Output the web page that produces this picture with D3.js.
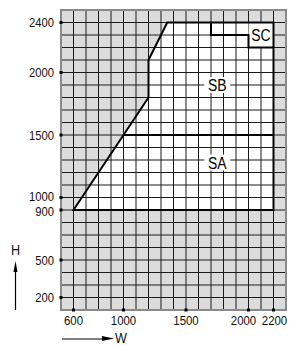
<!DOCTYPE html>
<html><head><meta charset="utf-8">
<script src="https://cdn.jsdelivr.net/npm/d3@7"></script>
<style>html,body{margin:0;padding:0;background:#fff;}svg{display:block;}</style>
</head><body>
<script>
const xDomain = [500, 2300];
const yDomain = [100, 2500];
const gridStep = 100;
const xTicks = [600, 1000, 1500, 2000, 2200];
const yTicks = [200, 500, 900, 1000, 1500, 2000, 2400];
const regionOutline = [[600,900],[1200,1800],[1200,2100],[1350,2400],[2200,2400],[2200,900]];
const dividerSASB = [[1000,1500],[2200,1500]];
const scBoundary = [[1700,2400],[1700,2300],[2000,2300],[2000,2200],[2200,2200]];
const scBox = [[2000,2200],[2200,2400]];
const zoneLabels = ["SA","SB","SC"];
const zoneX = [1750, 1750, 2100];
const zoneY = [1280, 1900, 2300];

const W = 291, H = 345;
const svg = d3.select("body").append("svg").attr("width", W).attr("height", H);
const x = d3.scaleLinear().domain(xDomain).range([61, 286]);
const y = d3.scaleLinear().domain(yDomain).range([310, 10]);
const font = "'Liberation Sans',Arial,sans-serif";

function ctext(tx, ty, str, size, anchor, sx, dy) {
  return svg.append("text")
    .attr("transform", `translate(${tx},${ty}) scale(${sx},1)`)
    .attr("dy", dy || 0)
    .attr("text-anchor", anchor).attr("font-family", font).attr("font-size", size)
    .attr("fill", "#111").text(str);
}

// grey background
svg.append("rect").attr("x", x(xDomain[0])).attr("y", y(yDomain[1]))
  .attr("width", x(xDomain[1]) - x(xDomain[0])).attr("height", y(yDomain[0]) - y(yDomain[1]))
  .attr("fill", "#dcdcdc");
// white region
const line = d3.line().x(d => x(d[0])).y(d => y(d[1]));
svg.append("path").attr("d", line(regionOutline) + "Z").attr("fill", "#fff");

// grid
const gx = d3.range(xDomain[0] + gridStep, xDomain[1], gridStep);
const gy = d3.range(yDomain[0] + gridStep, yDomain[1], gridStep);
svg.append("g").selectAll("line").data(gx).join("line")
  .attr("x1", d => x(d)).attr("x2", d => x(d)).attr("y1", y(yDomain[0])).attr("y2", y(yDomain[1]))
  .attr("stroke", "#1a1a1a").attr("stroke-width", 1);
svg.append("g").selectAll("line").data(gy).join("line")
  .attr("y1", d => y(d)).attr("y2", d => y(d)).attr("x1", x(xDomain[0])).attr("x2", x(xDomain[1]))
  .attr("stroke", "#1a1a1a").attr("stroke-width", 1);

// frame
svg.append("rect").attr("x", x(xDomain[0])).attr("y", y(yDomain[1]))
  .attr("width", x(xDomain[1]) - x(xDomain[0])).attr("height", y(yDomain[0]) - y(yDomain[1]))
  .attr("fill", "none").attr("stroke", "#8a8a8a").attr("stroke-width", 2);

// SC label box white
svg.append("rect").attr("x", x(scBox[0][0])).attr("y", y(scBox[1][1]))
  .attr("width", x(scBox[1][0]) - x(scBox[0][0])).attr("height", y(scBox[0][1]) - y(scBox[1][1]))
  .attr("fill", "#fff");

// thick boundaries
function tl(pts, closed) {
  svg.append("path").attr("d", line(pts) + (closed ? "Z" : ""))
    .attr("stroke", "#000").attr("stroke-width", 2).attr("fill", "none");
}
tl(regionOutline, true);
tl(dividerSASB, false);
tl(scBoundary, false);

// zone labels
zoneLabels.forEach((t, i) => {
  const cx = x(zoneX[i]), cy = y(zoneY[i]);
  if (t !== "SC") svg.append("rect").attr("x", cx - 13).attr("y", cy - 8).attr("width", 26).attr("height", 16).attr("fill", "#fff");
  ctext(cx, cy, t, 17, "middle", 0.82, "0.36em").attr("fill", "#000");
});

// axes ticks
svg.append("g").selectAll("rect").data(yTicks).join("rect")
  .attr("x", x(xDomain[0]) - 1.5).attr("y", d => y(d) - 1.5).attr("width", 3).attr("height", 3).attr("fill", "#000");
const yNudge = {1000: -1, 900: 1};
yTicks.forEach(d => ctext(54, y(d) + (yNudge[d] || 0), d, 12.5, "end", 0.9, "0.36em"));
svg.append("g").selectAll("rect").data(xTicks).join("rect")
  .attr("x", d => x(d) - 1.5).attr("y", y(yDomain[0]) - 1.5).attr("width", 3).attr("height", 3).attr("fill", "#000");
const xNudge = {2000: -5, 2200: 1};
xTicks.forEach(d => ctext(x(d) + (xNudge[d] || 0), 325, d, 13, "middle", 0.88));

// axis titles with arrows
ctext(15.5, 255, "H", 14, "middle", 0.9);
svg.append("line").attr("x1", 15.5).attr("x2", 15.5).attr("y1", 310).attr("y2", 268).attr("stroke", "#000").attr("stroke-width", 1.2);
svg.append("path").attr("d", "M15.5,261 L13.5,272 L17.5,272 Z").attr("fill", "#000");
ctext(121, 343, "W", 14, "middle", 0.9);
svg.append("line").attr("x1", 62).attr("x2", 104).attr("y1", 339).attr("y2", 339).attr("stroke", "#000").attr("stroke-width", 1.2);
svg.append("path").attr("d", "M114,338.5 L102,336 L102,341 Z").attr("fill", "#000");
</script>
</body></html>
